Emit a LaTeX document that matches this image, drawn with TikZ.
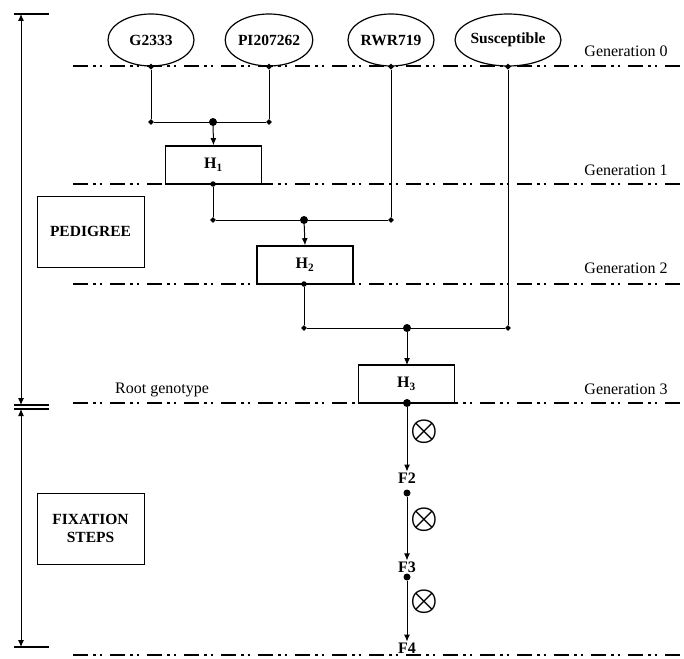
\documentclass[tikz,border=0pt]{standalone}
\usepackage{fontspec}
\setmainfont{Liberation Serif}
\usepackage{graphicx}
\usepackage{bm}
\usepackage{tikz}
\usetikzlibrary{arrows.meta, shapes, positioning}

\tikzset{
  parent/.style={draw, ellipse, line width=1.2pt, minimum width=86pt, minimum height=52pt,
                 inner sep=0pt, font=\fontsize{15.5}{18}\selectfont\bfseries},
  hybrid/.style={draw, rectangle, line width=1.6pt, minimum width=96pt, minimum height=38pt,
                 inner sep=0pt, font=\fontsize{16}{18}\selectfont\bfseries},
  stagebox/.style={draw, rectangle, line width=.7pt, minimum width=107pt, minimum height=71pt,
                 align=center, font=\fontsize{15.5}{18}\selectfont\bfseries},
  genline/.style={line width=1.6pt, dash pattern=on 15pt off 5pt on 2.5pt off 4pt on 2.5pt off 8pt},
  genlabel/.style={font=\fontsize{16}{18}\selectfont, inner sep=0pt},
  flabel/.style={font=\fontsize{16}{18}\selectfont\bfseries, inner sep=1pt},
  selfing/.style={inner sep=0pt},
  joint/.style={diamond, fill, inner sep=0pt, minimum size=6pt},
  knot/.style={circle, fill, inner sep=0pt, minimum size=8pt},
  tinyknot/.style={circle, fill, inner sep=0pt, minimum size=5.5pt},
  link/.style={line width=1pt},
  span/.style={line width=1pt, {Latex[length=7pt,width=6pt]}-{Latex[length=7pt,width=6pt]}}
}
\newcommand{\selfmark}{\scalebox{3.1}{$\bm{\otimes}$}}

\begin{document}
\begin{tikzpicture}[x=1pt, y=-1pt, >={Latex[length=7pt,width=6pt]}]
  \useasboundingbox (0,0) rectangle (684,658);

  % generation lines
  \foreach \yy in {66,184,284,403,655}
    \draw[genline] (73,\yy) -- (684,\yy);
  \node[genlabel] (gen0) at (626,51) {Generation 0};
  \node[genlabel] (gen1) at (626,170) {Generation 1};
  \node[genlabel] (gen2) at (626,268) {Generation 2};
  \node[genlabel] (gen3) at (626,389) {Generation 3};
  \node[genlabel, anchor=west] (root) at (115,390) {Root genotype};

  % parents
  \node[parent] (g2333) at (151,40) {G2333};
  \node[parent] (pi) at (269,40) {PI207262};
  \node[parent] (rwr) at (391,40) {RWR719};
  \node[parent, minimum width=84pt] (susc) at (508,40) {Susceptible};

  % hybrids
  \node[hybrid] (h1) at (213.5,165) {H\textsubscript{1}};
  \node[hybrid] (h2) at (305,265) {H\textsubscript{2}};
  \node[hybrid] (h3) at (406.5,384) {H\textsubscript{3}};

  % crosses
  \node[joint] (ga) at (g2333.south) {};
  \node[joint] (pa) at (pi.south) {};
  \node[joint] (ra) at (rwr.south) {};
  \node[joint] (sa) at (susc.south) {};
  \node[joint] (gb) at (151,122) {};
  \node[joint] (pb) at (269,122) {};
  \node[knot] (m1) at (213,122) {};
  \draw[link] (ga) -- (gb) -- (pb) -- (pa);
  \draw[link, ->] (m1) -- (h1.north);

  \node[tinyknot] (h1s) at (213,184) {};
  \node[joint] (h1b) at (213,220) {};
  \node[joint] (rb) at (391,220) {};
  \node[knot] (m2) at (304,220) {};
  \draw[link] (h1s) -- (h1b) -- (rb) -- (ra);
  \draw[link, ->] (m2) -- (h2.north);

  \node[tinyknot] (h2s) at (304,284) {};
  \node[joint] (h2b) at (304,328) {};
  \node[joint] (sb) at (508,328) {};
  \node[knot] (m3) at (407,328) {};
  \draw[link] (h2s) -- (h2b) -- (sb) -- (sa);
  \draw[link, ->] (m3) -- (407,365);

  % fixation
  \node[knot] (h3s) at (407,403) {};
  \node[flabel] (f2) at (407,478) {F2};
  \node[tinyknot, minimum height=7pt] (f2d) at (407,493) {};
  \node[flabel] (f3) at (407,567) {F3};
  \node[tinyknot, minimum height=7pt] (f3d) at (407,577) {};
  \node[flabel] (f4) at (407,648) {F4};
  \draw[link, ->] (h3s) -- (f2.north);
  \draw[link, ->] (f2d) -- (f3.north);
  \draw[link, ->] (f3d) -- (f4.north);
  \node[selfing] (x1) at (424,432) {\selfmark};
  \node[selfing] (x2) at (424,520) {\selfmark};
  \node[selfing] (x3) at (424,602) {\selfmark};

  % stages
  \node[stagebox] (pedigree) at (90.5,231.5) {PEDIGREE};
  \node[stagebox] (fixation) at (90.5,528.5) {FIXATION\\STEPS};
  \coordinate (topend) at (21,14);
  \coordinate (midup) at (21,405);
  \coordinate (middown) at (21,409);
  \coordinate (botend) at (21,647);
  \draw[line width=1.2pt] (14,14) -- (49,14);
  \draw[line width=1.2pt] (14,405) -- (49,405) (14,409) -- (49,409);
  \draw[line width=1.2pt] (14,647) -- (49,647);
  \draw[span] (topend) -- (midup);
  \draw[span] (middown) -- (botend);
\end{tikzpicture}
\end{document}
